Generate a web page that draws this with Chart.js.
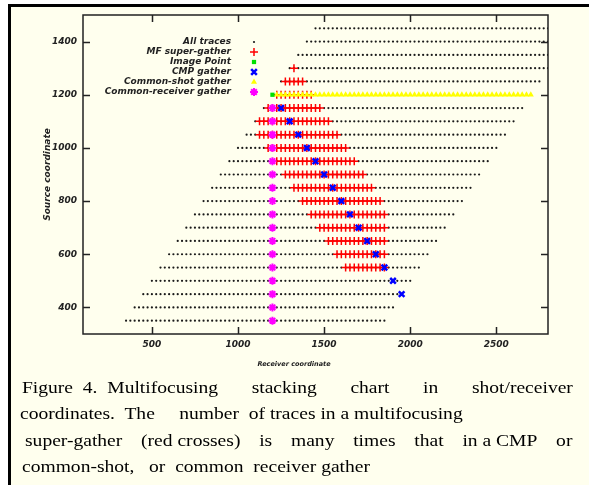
<!DOCTYPE html>
<html>
<head>
<meta charset="utf-8">
<script src="https://cdn.jsdelivr.net/npm/chart.js"></script>
<style>
  html, body { margin: 0; padding: 0; background: #fff; }
  #page { position: relative; width: 589px; height: 485px; overflow: hidden; }
  #frame { position: absolute; left: 8px; top: 4px; right: 0; bottom: 0;
           border-left: 3px solid #000; border-top: 3px solid #000; background: #ffffee; }
  #stack_chart { position: absolute; left: 0; top: 0; }
  /* the caption in the picture is stretched sideways */
  .caption { position: absolute; font-family: 'Liberation Serif', 'Times New Roman', serif;
             font-size: 17px; line-height: 17px; color: #000; white-space: pre;
             transform: scaleX(1.15); transform-origin: 0 0; }
  .justify { white-space: normal; text-align: justify; text-align-last: justify; }
  .keep { display: inline-block; white-space: pre; }
</style>
</head>
<body>
<div id="page">
  <div id="frame"></div>
  <canvas id="stack_chart" width="589" height="485"></canvas>
  <div class="caption justify" style="left:22px; top:379px; width:479px;"><span class="keep">Figure  4.  Multifocusing</span> stacking chart in shot/receiver</div>
  <div class="caption" style="left:20px; top:405px;">coordinates.  The     number  of traces in a multifocusing</div>
  <div class="caption justify" style="left:25px; top:432px; width:476px;">super-gather <span class="keep">(red crosses)</span> is many times that <span class="keep">in a CMP</span> or</div>
  <div class="caption" style="left:22px; top:458px;">common-shot,   or  common  receiver gather</div>
</div>
<script>
// all traces: one row per source, receivers every 25 from first to last
const trace_source = [350, 400, 450, 500, 550, 600, 650, 700, 750, 800, 850, 900,
                      950, 1000, 1050, 1100, 1150, 1200, 1250, 1300, 1350, 1400, 1450];
const trace_first  = [350, 400, 450, 500, 550, 600, 650, 700, 750, 800, 850, 900,
                      950, 1000, 1050, 1100, 1150, 1200, 1250, 1300, 1350, 1400, 1450];
const trace_last   = [1850, 1900, 1950, 2000, 2050, 2100, 2150, 2200, 2250, 2300, 2350, 2400,
                      2450, 2500, 2550, 2600, 2650, 2700, 2750, 2800, 2850, 2900, 2950];
const receiver_step = 25;

// MF super-gather rows
const mf_source = [1300, 1250, 1200, 1150, 1100, 1050, 1000, 950, 900, 850, 800, 750, 700, 650, 600, 550];
const mf_first  = [1325, 1275, 1225, 1175, 1125, 1125, 1175, 1225, 1275, 1325, 1375, 1425, 1475, 1525, 1575, 1625];
const mf_last   = [1325, 1375, 1425, 1475, 1525, 1575, 1625, 1675, 1725, 1775, 1825, 1850, 1850, 1850, 1850, 1850];

// common-shot gather (shot 1200)
const shot_source = [1200];
const shot_first  = [1225];
const shot_last   = [2700];

const image_source = [1200];
const image_receiver = [1200];

const cmp_source   = [1150, 1100, 1050, 1000, 950, 900, 850, 800, 750, 700, 650, 600, 550, 500, 450];
const cmp_receiver = [1250, 1300, 1350, 1400, 1450, 1500, 1550, 1600, 1650, 1700, 1750, 1800, 1850, 1900, 1950];

const cr_source   = [350, 400, 450, 500, 550, 600, 650, 700, 750, 800, 850, 900, 950, 1000, 1050, 1100, 1150];
const cr_receiver = [1200, 1200, 1200, 1200, 1200, 1200, 1200, 1200, 1200, 1200, 1200, 1200, 1200, 1200, 1200, 1200, 1200];

const x_ticks = [500, 1000, 1500, 2000, 2500];
const y_ticks = [400, 600, 800, 1000, 1200, 1400];

function rowPoints(src, first, last) {
  const pts = [];
  src.forEach((s, i) => {
    for (let r = first[i]; r <= last[i]; r += receiver_step) pts.push({x: r, y: s});
  });
  return pts;
}
function pairPoints(src, rec) {
  return src.map((s, i) => ({x: rec[i], y: s}));
}

const sans = "'DejaVu Sans', Verdana, sans-serif";
const label_font = {family: sans, size: 9, style: 'italic', weight: 'bold'};

const frame_plugin = {
  id: 'frame_plugin',
  afterDraw(chart) {
    const {ctx, chartArea: a, scales: {x, y}} = chart;
    ctx.save();
    ctx.strokeStyle = '#222';
    ctx.lineWidth = 1.5;
    ctx.strokeRect(a.left, a.top, a.right - a.left, a.bottom - a.top);
    ctx.beginPath();
    x.ticks.forEach(t => {
      const px = Math.round(x.getPixelForValue(t.value)) + 0.5;
      ctx.moveTo(px, a.bottom); ctx.lineTo(px, a.bottom - 7);
      ctx.moveTo(px, a.top); ctx.lineTo(px, a.top + 7);
    });
    y.ticks.forEach(t => {
      const py = Math.round(y.getPixelForValue(t.value)) + 0.5;
      ctx.moveTo(a.left, py); ctx.lineTo(a.left + 7, py);
      ctx.moveTo(a.right, py); ctx.lineTo(a.right - 7, py);
    });
    ctx.stroke();

    // x axis title
    ctx.fillStyle = '#222';
    ctx.font = 'italic bold 6.5px ' + sans;
    ctx.textAlign = 'center';
    ctx.textBaseline = 'middle';
    ctx.fillText('Receiver coordinate', 294, 364);

    // legend, text right aligned with symbol after it
    ctx.font = 'italic bold 9px ' + sans;
    ctx.textAlign = 'right';
    chart.data.datasets.forEach((ds, i) => {
      const ly = 42 + i * 10;
      ctx.fillStyle = '#222';
      ctx.fillText(ds.label, 231, ly);
      ctx.fillStyle = ds.backgroundColor;
      ctx.strokeStyle = ds.borderColor;
      ctx.lineWidth = ds.pointBorderWidth;
      Chart.helpers.drawPoint(ctx, {pointStyle: ds.pointStyle, radius: ds.pointRadius,
        rotation: 0, borderWidth: ds.pointBorderWidth}, 254, ly);
    });
    ctx.restore();
  }
};

const stack_chart = document.getElementById('stack_chart');

new Chart(stack_chart, {
  type: 'scatter',
  data: {
    datasets: [{
      label: 'All traces',
      data: rowPoints(trace_source, trace_first, trace_last),
      pointStyle: 'circle', pointRadius: 1.1, pointBorderWidth: 0,
      backgroundColor: '#1a1a1a', borderColor: '#1a1a1a', order: 6, clip: 0
    }, {
      label: 'MF super-gather',
      data: rowPoints(mf_source, mf_first, mf_last),
      pointStyle: 'cross', pointRadius: 4, pointBorderWidth: 1.5,
      backgroundColor: '#ff0000', borderColor: '#ff0000', order: 5, clip: 0
    }, {
      label: 'Image Point',
      data: pairPoints(image_source, image_receiver),
      pointStyle: 'rect', pointRadius: 3, pointBorderWidth: 0,
      backgroundColor: '#00e000', borderColor: '#00e000', order: 3, clip: 0
    }, {
      label: 'CMP gather',
      data: pairPoints(cmp_source, cmp_receiver),
      pointStyle: 'crossRot', pointRadius: 4, pointBorderWidth: 2.5,
      backgroundColor: '#0000ff', borderColor: '#0000ff', order: 2, clip: 0
    }, {
      label: 'Common-shot gather',
      data: rowPoints(shot_source, shot_first, shot_last),
      pointStyle: 'triangle', pointRadius: 3.5, pointBorderWidth: 0,
      backgroundColor: '#ffff00', borderColor: '#ffff00', order: 4, clip: 0
    }, {
      label: 'Common-receiver gather',
      data: pairPoints(cr_source, cr_receiver),
      pointStyle: 'star', pointRadius: 4, pointBorderWidth: 2,
      backgroundColor: '#ff00ff', borderColor: '#ff00ff', order: 1, clip: 0
    }]
  },
  options: {
    responsive: false,
    animation: false,
    devicePixelRatio: 1,
    layout: { padding: { left: 0, top: 15, right: 41, bottom: 0 } },
    plugins: { legend: { display: false }, tooltip: { enabled: false } },
    scales: {
      x: {
        type: 'linear', min: 100, max: 2800,
        grid: { display: false, drawTicks: false }, border: { display: false },
        afterBuildTicks: s => { s.ticks = x_ticks.map(v => ({value: v})); },
        afterFit: s => { s.height = 151; },
        ticks: { font: label_font, color: '#222', padding: 5, callback: v => String(v) }
      },
      y: {
        type: 'linear', min: 300, max: 1500,
        grid: { display: false, drawTicks: false }, border: { display: false },
        afterBuildTicks: s => { s.ticks = y_ticks.map(v => ({value: v})); },
        afterFit: s => { s.width = 83; },
        ticks: { font: label_font, color: '#222', padding: 6, callback: v => String(v) },
        title: {
          display: true, text: 'Source coordinate', color: '#222',
          font: {family: sans, size: 9, style: 'italic', weight: 'bold'},
          padding: { top: 42, bottom: 0 }
        }
      }
    }
  },
  plugins: [frame_plugin]
});
</script>
</body>
</html>
